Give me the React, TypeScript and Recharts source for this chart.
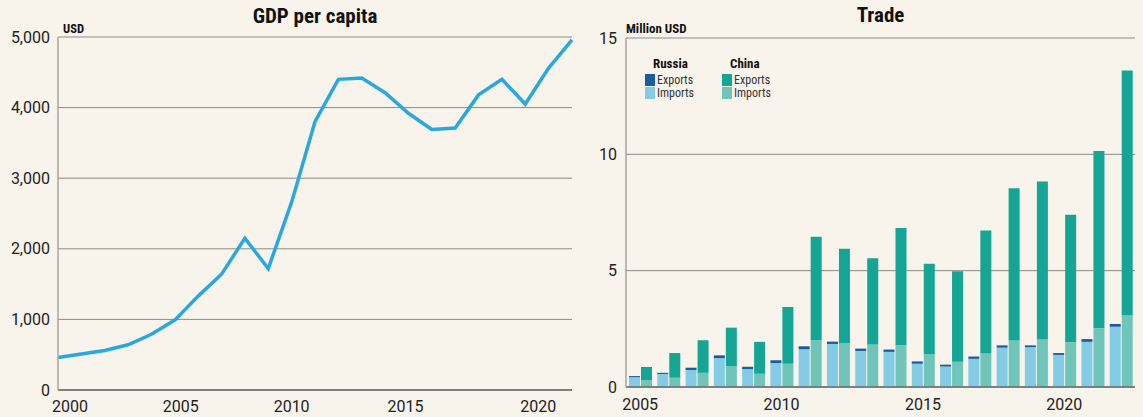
import { LineChart, Line, BarChart, Bar, XAxis, YAxis, CartesianGrid } from 'recharts';

const gdpYears = [2000, 2001, 2002, 2003, 2004, 2005, 2006, 2007, 2008, 2009, 2010, 2011, 2012, 2013, 2014, 2015, 2016, 2017, 2018, 2019, 2020, 2021, 2022];
const gdpValues = [460, 510, 560, 640, 790, 990, 1330, 1640, 2150, 1720, 2660, 3800, 4400, 4420, 4210, 3920, 3690, 3710, 4180, 4400, 4050, 4560, 4960];
const gdpTicks = [0, 1000, 2000, 3000, 4000, 5000];
const gdpYearTicks = [2000, 2005, 2010, 2015, 2020];

const tradeYears = ['2005', '2006', '2007', '2008', '2009', '2010', '2011', '2012', '2013', '2014', '2015', '2016', '2017', '2018', '2019', '2020', '2021', '2022'];
const ruImports = [0.42, 0.56, 0.73, 1.24, 0.77, 1.03, 1.62, 1.85, 1.55, 1.51, 1.0, 0.88, 1.21, 1.69, 1.71, 1.38, 1.94, 2.59];
const ruExports = [0.05, 0.05, 0.1, 0.12, 0.1, 0.12, 0.13, 0.1, 0.1, 0.1, 0.1, 0.08, 0.1, 0.1, 0.08, 0.08, 0.12, 0.12];
const cnImports = [0.3, 0.4, 0.61, 0.9, 0.57, 1.0, 2.02, 1.88, 1.83, 1.79, 1.42, 1.09, 1.44, 2.0, 2.04, 1.92, 2.52, 3.07];
const cnExports = [0.56, 1.06, 1.4, 1.65, 1.37, 2.44, 4.44, 4.06, 3.7, 5.04, 3.88, 3.88, 5.29, 6.54, 6.79, 5.48, 7.62, 10.53];
const tradeTicks = [0, 5, 10, 15];
const tradeYearTicks = ['2005', '2010', '2015', '2020'];

const BG = '#f8f4ec';
const FONT = 'Roboto, "Noto Sans", sans-serif';
const COND = '"Roboto Condensed", "Liberation Sans Narrow", "DejaVu Sans Condensed", Roboto, sans-serif';
const RU_EXP = '#1c5c9e';
const RU_IMP = '#84cbe6';
const CN_EXP = '#14a595';
const CN_IMP = '#6fc5ba';
const LINE = '#29a8e0';

const gdpData = gdpYears.map((year, i) => ({ year, gdp: gdpValues[i] }));
const tradeData = tradeYears.map((year, i) => ({
  year,
  ruImp: ruImports[i],
  ruExp: ruExports[i],
  cnImp: cnImports[i],
  cnExp: cnExports[i],
}));

// label nudges seen in the original
const yearNudge: Record<number, number> = { 2000: 12, 2005: 6, 2010: 0, 2015: -3, 2020: 13 };

function GdpTick(props: any) {
  const { x, y, payload } = props;
  return (
    <text x={x + (yearNudge[payload.value] || 0)} y={y + 14} textAnchor="middle" fill="#222" fontSize={16} fontFamily={FONT}>
      {payload.value}
    </text>
  );
}

function Swatch({ color }: { color: string }) {
  return <span style={{ display: 'inline-block', width: 10, height: 12, background: color, marginRight: 2, verticalAlign: 'top' }} />;
}

function LegendGroup({ name, exp, imp, left }: { name: string; exp: string; imp: string; left: number }) {
  const row = { height: 12.5, lineHeight: '12px', fontSize: 12, color: '#333', whiteSpace: 'nowrap' as const };
  return (
    <div style={{ position: 'absolute', left, top: 56, fontFamily: COND }}>
      <div style={{ fontWeight: 700, fontSize: 13, color: '#111', marginLeft: 8, marginBottom: 3 }}>{name}</div>
      <div style={row}><Swatch color={exp} />Exports</div>
      <div style={row}><Swatch color={imp} />Imports</div>
    </div>
  );
}

export default function App() {
  return (
    <div style={{ position: 'absolute', left: 0, top: 0, width: 1143, height: 417, background: BG, overflow: 'hidden', fontFamily: FONT }}>
      <div style={{ position: 'absolute', left: 58, width: 514, top: 4, textAlign: 'center', fontFamily: COND, fontWeight: 700, fontSize: 21, color: '#111' }}>
        GDP per capita
      </div>
      <div style={{ position: 'absolute', left: 63, top: 21, fontFamily: COND, fontWeight: 700, fontSize: 12.5, color: '#111' }}>USD</div>

      <div style={{ position: 'absolute', left: 0, top: 0 }}>
        <LineChart width={590} height={417} data={gdpData} margin={{ top: 37, right: 18, bottom: 0, left: 8 }}>
          <CartesianGrid vertical={false} stroke="#8f8a84" strokeWidth={1} />
          <XAxis
            dataKey="year"
            type="number"
            domain={[2000, 2022]}
            ticks={gdpYearTicks}
            height={27}
            axisLine={{ stroke: '#6e6a66', strokeWidth: 1.5 }}
            tickLine={false}
            tick={<GdpTick />}
          />
          <YAxis
            domain={[0, 5000]}
            ticks={gdpTicks}
            width={50}
            axisLine={{ stroke: '#a9a39c', strokeWidth: 1.5 }}
            tickLine={false}
            tickSize={0}
            tickMargin={8}
            tickFormatter={(v: number) => v.toLocaleString('en-US')}
            tick={{ fill: '#222', fontSize: 16, fontFamily: FONT }}
          />
          <Line type="linear" dataKey="gdp" stroke={LINE} strokeWidth={3.5} dot={false} isAnimationActive={false} />
        </LineChart>
      </div>

      <div style={{ position: 'absolute', left: 626, width: 509, top: 3, textAlign: 'center', fontFamily: COND, fontWeight: 700, fontSize: 21, color: '#111' }}>
        Trade
      </div>
      <div style={{ position: 'absolute', left: 626, top: 21, fontFamily: COND, fontWeight: 700, fontSize: 13, color: '#111' }}>Million USD</div>
      <LegendGroup name="Russia" exp={RU_EXP} imp={RU_IMP} left={645} />
      <LegendGroup name="China" exp={CN_EXP} imp={CN_IMP} left={722} />

      <div style={{ position: 'absolute', left: 590, top: 0 }}>
        <BarChart width={553} height={417} data={tradeData} margin={{ top: 38, right: 8, bottom: 0, left: 6 }} barCategoryGap={3} barGap={1}>
          <CartesianGrid vertical={false} stroke="#8f8a84" strokeWidth={1} />
          <XAxis
            dataKey="year"
            ticks={tradeYearTicks}
            interval={0}
            height={30}
            axisLine={{ stroke: '#6e6a66', strokeWidth: 1.5 }}
            tickLine={false}
            tickMargin={6}
            tick={{ fill: '#222', fontSize: 16, fontFamily: FONT }}
          />
          <YAxis
            domain={[0, 15]}
            ticks={tradeTicks}
            width={30}
            axisLine={{ stroke: '#a9a39c', strokeWidth: 1.5 }}
            tickLine={false}
            tickSize={0}
            tickMargin={9}
            tick={{ fill: '#222', fontSize: 16, fontFamily: FONT }}
          />
          <Bar dataKey="ruImp" stackId="ru" fill={RU_IMP} isAnimationActive={false} />
          <Bar dataKey="ruExp" stackId="ru" fill={RU_EXP} isAnimationActive={false} />
          <Bar dataKey="cnImp" stackId="cn" fill={CN_IMP} isAnimationActive={false} />
          <Bar dataKey="cnExp" stackId="cn" fill={CN_EXP} isAnimationActive={false} />
        </BarChart>
      </div>
    </div>
  );
}
